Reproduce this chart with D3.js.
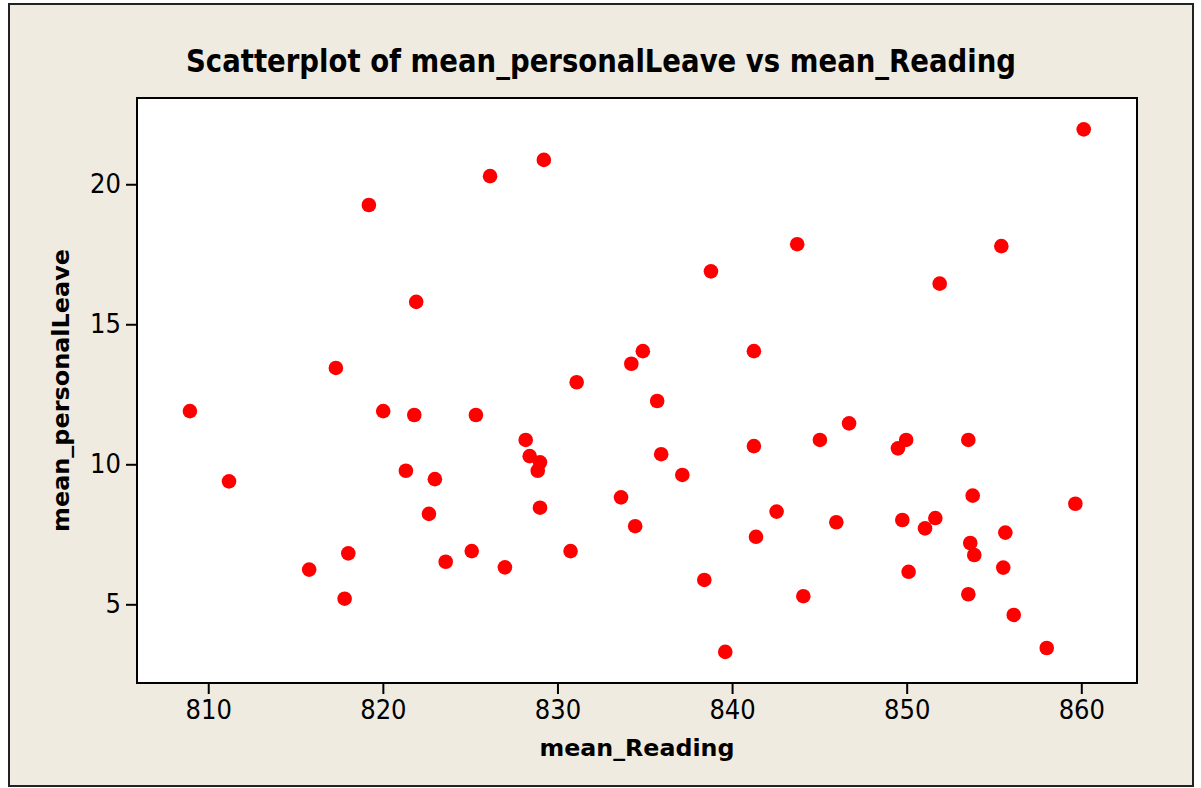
<!DOCTYPE html>
<html>
<head>
<meta charset="utf-8">
<script src="https://cdn.jsdelivr.net/npm/d3@7"></script>
<style>
  html, body { margin: 0; padding: 0; background: #fff; }
  svg { display: block; }
</style>
</head>
<body>
<script>
// mean_Reading values (x)
const reading = [
  808.95, 811.19, 815.78, 817.81, 818.02, 817.31, 819.20, 820.02, 821.80, 821.91,
  821.32, 822.98, 822.64, 823.60, 825.09, 825.33, 826.14, 829.22, 826.99, 828.18,
  828.41, 829.00, 828.87, 829.00, 830.75, 831.10, 833.64, 834.45, 834.23, 834.89,
  835.71, 835.94, 837.15, 838.79, 838.41, 839.61, 841.25, 841.25, 841.37, 842.55,
  843.73, 844.08, 845.03, 845.97, 846.70, 849.50, 849.97, 849.75, 850.11, 851.05,
  851.64, 851.89, 853.53, 853.78, 853.64, 853.87, 853.53, 855.42, 855.65, 855.53,
  856.13, 858.02, 859.66, 860.14
];
// mean_personalLeave values (y)
const personalLeave = [
  11.90, 9.39, 6.24, 5.20, 6.82, 13.44, 19.26, 11.90, 11.76, 15.80,
  9.77, 9.47, 8.23, 6.52, 6.90, 11.76, 20.29, 20.87, 6.32, 10.87,
  10.29, 10.07, 9.77, 8.45, 6.90, 12.93, 8.82, 7.79, 13.59, 14.04,
  12.26, 10.36, 9.62, 16.89, 5.87, 3.30, 14.04, 10.65, 7.41, 8.31,
  17.86, 5.29, 10.87, 7.93, 11.46, 10.57, 10.87, 8.01, 6.16, 7.71,
  8.08, 16.45, 10.87, 8.88, 7.19, 6.76, 5.36, 17.79, 7.56, 6.31,
  4.62, 3.44, 8.59, 21.96
];
const xTicks = [810, 820, 830, 840, 850, 860];
const yTicks = [5, 10, 15, 20];

const width = 1201, height = 788;
const plot = { left: 137, right: 1137, top: 98, bottom: 683 };
const bg = "#efebe1";
const tickFont = "'DejaVu Sans Condensed', 'Liberation Sans', sans-serif";
const boldFont = "'DejaVu Sans Condensed', 'DejaVu Sans', sans-serif";

const svg = d3.select("body").append("svg")
  .attr("width", width)
  .attr("height", height);

// outer frame
svg.append("rect")
  .attr("x", 0).attr("y", 0)
  .attr("width", width).attr("height", height)
  .attr("fill", "#fff");
svg.append("rect")
  .attr("x", 9).attr("y", 4)
  .attr("width", 1184).attr("height", 782)
  .attr("fill", bg)
  .attr("stroke", "#222")
  .attr("stroke-width", 2);

const x = d3.scaleLinear().domain([805.92, 863.19]).range([plot.left, plot.right]);
const y = d3.scaleLinear().domain([2.19, 23.08]).range([plot.bottom, plot.top]);

// plot area
svg.append("rect")
  .attr("x", plot.left).attr("y", plot.top)
  .attr("width", plot.right - plot.left)
  .attr("height", plot.bottom - plot.top)
  .attr("fill", "#fff")
  .attr("stroke", "#000")
  .attr("stroke-width", 2);

const xAxis = svg.append("g")
  .attr("transform", `translate(0,${plot.bottom})`)
  .call(d3.axisBottom(x).tickValues(xTicks).tickSize(11).tickPadding(6).tickFormat(d3.format("d")));
const yAxis = svg.append("g")
  .attr("transform", `translate(${plot.left},0)`)
  .call(d3.axisLeft(y).tickValues(yTicks).tickSize(11).tickPadding(5).tickFormat(d3.format("d")));

[xAxis, yAxis].forEach((g) => {
  g.select(".domain").remove();
  g.selectAll(".tick line").attr("stroke", "#000").attr("stroke-width", 2);
  g.selectAll(".tick text")
    .attr("fill", "#000")
    .style("font-family", tickFont)
    .style("font-size", "27px");
});

// points
svg.append("g")
  .selectAll("circle")
  .data(reading.map((r, i) => [r, personalLeave[i]]))
  .join("circle")
  .attr("cx", (d) => x(d[0]))
  .attr("cy", (d) => y(d[1]))
  .attr("r", 7.3)
  .attr("fill", "#ff0000");

// title
svg.append("text")
  .attr("x", 601)
  .attr("y", 72)
  .attr("text-anchor", "middle")
  .style("font-family", boldFont)
  .style("font-weight", "bold")
  .style("font-size", "32px")
  .attr("textLength", 830)
  .attr("lengthAdjust", "spacingAndGlyphs")
  .text("Scatterplot of mean_personalLeave vs mean_Reading");

// axis labels
svg.append("text")
  .attr("x", (plot.left + plot.right) / 2)
  .attr("y", 756)
  .attr("text-anchor", "middle")
  .style("font-family", boldFont)
  .style("font-weight", "bold")
  .style("font-size", "23px")
  .attr("textLength", 195)
  .attr("lengthAdjust", "spacingAndGlyphs")
  .text("mean_Reading");

svg.append("text")
  .attr("transform", `translate(69,${(plot.top + plot.bottom) / 2}) rotate(-90)`)
  .attr("text-anchor", "middle")
  .style("font-family", boldFont)
  .style("font-weight", "bold")
  .style("font-size", "23px")
  .attr("textLength", 283)
  .attr("lengthAdjust", "spacingAndGlyphs")
  .text("mean_personalLeave");
</script>
</body>
</html>
